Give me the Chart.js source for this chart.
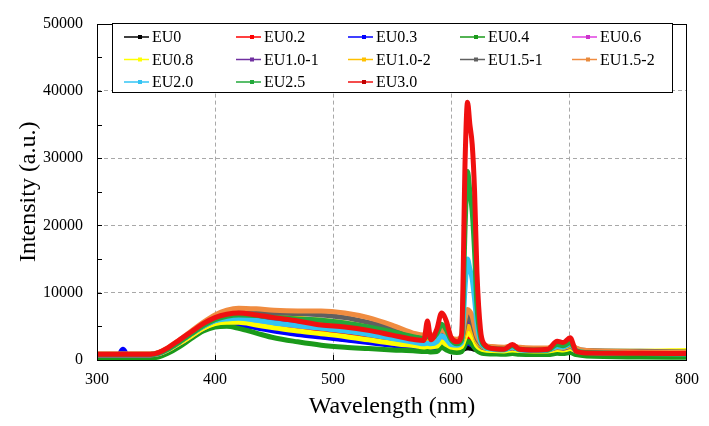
<!DOCTYPE html>
<html>
<head>
<meta charset="utf-8">
<script src="https://cdn.jsdelivr.net/npm/chart.js@4.4.1/dist/chart.umd.min.js"></script>
<style>
  html, body { margin: 0; padding: 0; background: #fff; }
  #wrap { width: 709px; height: 426px; }
</style>
</head>
<body>
<div id="wrap"><canvas id="chart" width="709" height="426"></canvas></div>
<script>
const serif = '"Liberation Serif", "Times New Roman", serif';

// wavelength (nm)
const wavelengths = [300,318,322,326,345,352,360,370,380,390,
  400,410,420,435,450,470,490,510,530,550,
  570,577,580,583,588,592,596,600,605,609,
  612,614,616,618,620,622,625,628,635,645,
  652,658,670,682,690,695,701,706,715,760,
  800];

const eu0 = [700,700,700,700,700,850,1400,2400,3500,4500,
  5200,5400,5300,4900,4400,3900,3500,3100,2700,2300,
  1900,1800,1800,1750,1750,1900,1800,1650,1600,1600,
  1700,1800,1750,1700,1600,1500,1400,1350,1300,1250,
  1250,1200,1150,1150,1200,1200,1200,1100,1000,900,
  850];
const eu02 = [800,800,800,800,800,950,1500,2500,3600,4700,
  5400,5700,5700,5400,5000,4600,4200,3800,3400,2900,
  2400,2250,2300,2250,2300,2700,2400,2100,2000,2100,
  3000,3500,3300,3000,2600,2100,1800,1600,1500,1400,
  1500,1400,1350,1350,1500,1450,1600,1300,1100,950,
  900];
const eu03 = [750,750,1600,750,750,900,1450,2450,3550,4550,
  5200,5300,5200,4800,4300,3800,3400,3000,2600,2200,
  1850,1750,1750,1700,1750,2100,1900,1650,1550,1650,
  2200,2500,2400,2200,1900,1650,1450,1350,1300,1250,
  1350,1250,1200,1200,1350,1300,1400,1150,1000,900,
  850];
const eu04 = [300,300,300,300,300,450,1000,2000,3200,4300,
  4900,5000,4700,4000,3300,2700,2200,1900,1700,1500,
  1350,1250,1250,1200,1250,1900,1500,1200,1100,1250,
  2300,2800,2600,2300,1800,1400,1100,950,900,850,
  950,850,800,800,1000,950,1100,800,600,450,
  400];
const eu06 = [750,750,750,750,750,900,1500,2500,3600,4700,
  5500,6000,6100,5800,5500,5100,4800,4400,3900,3300,
  2700,2500,2550,2500,2600,3200,2800,2300,2200,2400,
  3800,4500,4300,3900,3200,2400,1900,1700,1600,1500,
  1650,1500,1400,1400,1650,1550,1750,1350,1150,1000,
  950];
const eu08 = [800,800,800,800,800,950,1500,2500,3600,4700,
  5400,5600,5600,5200,4800,4300,3900,3500,3000,2500,
  2100,1950,2000,1950,2050,2700,2300,1900,1800,2000,
  3400,4000,3800,3400,2800,2100,1700,1500,1400,1350,
  1500,1400,1350,1350,1550,1500,1700,1400,1300,1300,
  1400];
const eu10a = [800,800,800,800,800,1000,1600,2700,3900,5000,
  5900,6300,6500,6300,6000,5700,5400,5000,4500,3800,
  3100,2900,2950,2900,3000,3800,3300,2700,2500,2800,
  4600,5500,5200,4700,3800,2800,2100,1800,1700,1600,
  1800,1600,1500,1500,1850,1750,2000,1500,1200,1050,
  1000];
const eu10b = [850,850,850,850,850,1050,1700,2800,4000,5200,
  6200,6700,6900,6700,6500,6200,5900,5500,4900,4100,
  3200,3000,3050,3000,3100,3800,3300,2700,2500,2800,
  4200,5000,4800,4300,3600,2800,2200,1900,1800,1700,
  1900,1700,1600,1600,1950,1850,2100,1600,1300,1150,
  1100];
const eu15a = [850,850,850,850,850,1050,1700,2900,4100,5400,
  6500,7200,7400,7200,7000,6900,6700,6300,5600,4700,
  3600,3400,3450,3400,3500,4300,3800,3100,2900,3200,
  5400,6500,6200,5500,4300,3200,2400,2000,1900,1800,
  2000,1800,1700,1700,2100,2000,2300,1700,1400,1300,
  1200];
const eu15b = [900,900,900,900,900,1100,1800,3000,4300,5600,
  6700,7400,7700,7600,7400,7300,7300,7000,6300,5200,
  3900,3700,3750,3700,3800,4500,4000,3300,3100,3400,
  6200,7500,7200,6500,5000,3600,2600,2200,2000,1900,
  2100,1900,1800,1800,2200,2100,2400,1800,1400,1200,
  1100];
const eu20 = [800,800,800,800,800,1000,1600,2700,3900,5000,
  5800,6100,6200,5900,5500,5100,4700,4300,3800,3200,
  2600,2400,2500,2400,2700,3600,3100,2300,2200,2600,
  11000,15000,13500,12000,9000,5500,2800,2000,1600,1500,
  1900,1500,1400,1450,2000,1900,2400,1400,1100,950,
  900];
const eu25 = [800,800,800,800,800,1000,1600,2700,3900,5100,
  6000,6500,6700,6600,6300,6100,5900,5500,4900,4200,
  3400,3200,3600,3300,3900,5300,4500,3000,2400,3000,
  20000,28000,25000,22000,16000,8000,3500,2200,1700,1600,
  2100,1600,1500,1500,2300,2100,2600,1400,1100,950,
  900];
const eu30 = [850,850,850,850,850,1100,1800,3000,4200,5400,
  6300,6800,7000,6700,6300,5800,5200,4900,4400,3700,
  3000,2900,5800,3000,4600,7000,5800,3400,2700,3800,
  30000,38300,35000,32000,25000,13000,4500,2400,1700,1600,
  2300,1600,1500,1600,2800,2600,3300,1300,1050,1000,
  950];

const seriesNames = ['EU0','EU0.2','EU0.3','EU0.4','EU0.6','EU0.8','EU1.0-1','EU1.0-2',
  'EU1.5-1','EU1.5-2','EU2.0','EU2.5','EU3.0'];
const seriesValues = [eu0, eu02, eu03, eu04, eu06, eu08, eu10a, eu10b, eu15a, eu15b, eu20, eu25, eu30];
const seriesColors = ['#000000','#ff0000','#0000ff','#1a9a1a','#e040e0','#ffff00','#7030a0','#ffc000',
  '#606060','#f08c40','#33c4f4','#22a83a','#f01010'];
const markerColors = ['#000000','#ff0000','#0000ff','#1a9a1a','#cc33cc','#ffff00','#7030a0','#ffc000',
  '#606060','#e88a3c','#33c4f4','#22a83a','#c00000'];

const datasets = seriesNames.map(function (name, i) {
  return {
    label: name,
    data: wavelengths.map(function (w, j) { return { x: w, y: seriesValues[i][j] }; }),
    borderColor: seriesColors[i],
    backgroundColor: seriesColors[i],
    // later series sit on top, as in the original
    order: seriesNames.length - 1 - i
  };
});

// legend in a framed box, 5 columns
const boxLegend = {
  id: 'boxLegend',
  afterDraw(chart) {
    const ctx = chart.ctx;
    const x0 = 112, y0 = 23, x1 = 672, y1 = 92;
    ctx.save();
    ctx.fillStyle = '#fff';
    ctx.fillRect(x0, y0, x1 - x0, y1 - y0);
    ctx.strokeStyle = '#000';
    ctx.lineWidth = 1;
    ctx.strokeRect(x0 + 0.5, y0 + 0.5, x1 - x0, y1 - y0);
    ctx.font = '16px ' + serif;
    ctx.textBaseline = 'middle';
    chart.data.datasets.forEach(function (ds, i) {
      const tx = 152 + (i % 5) * 112;
      const ty = 37 + Math.floor(i / 5) * 22.5;
      ctx.strokeStyle = ds.borderColor;
      ctx.lineWidth = 1.5;
      ctx.beginPath();
      ctx.moveTo(tx - 28, ty);
      ctx.lineTo(tx - 3, ty);
      ctx.stroke();
      ctx.fillStyle = markerColors[i];
      ctx.fillRect(tx - 14, ty - 2, 4, 4);
      ctx.fillStyle = '#000';
      ctx.fillText(ds.label, tx, ty + 1);
    });
    ctx.restore();
  }
};

// plot frame and inward tick marks
const frame = {
  id: 'frame',
  afterDraw(chart) {
    const { ctx, chartArea: a, scales } = chart;
    ctx.save();
    ctx.strokeStyle = '#000';
    ctx.lineWidth = 1;
    ctx.strokeRect(Math.round(a.left) + 0.5, Math.round(a.top) + 0.5,
      Math.round(a.right - a.left) - 1, Math.round(a.bottom - a.top));
    ctx.beginPath();
    for (let v = 5000; v < 50000; v += 5000) {
      const y = Math.round(scales.y.getPixelForValue(v)) + 0.5;
      ctx.moveTo(a.left, y);
      ctx.lineTo(a.left + 5, y);
    }
    for (let w = 400; w < 800; w += 100) {
      const x = Math.round(scales.x.getPixelForValue(w)) + 0.5;
      ctx.moveTo(x, a.bottom);
      ctx.lineTo(x, a.bottom - 5);
    }
    ctx.stroke();
    ctx.restore();
  }
};

new Chart(document.getElementById('chart'), {
  type: 'line',
  data: { datasets: datasets },
  plugins: [frame, boxLegend],
  options: {
    responsive: false,
    animation: false,
    devicePixelRatio: 1,
    layout: { padding: { left: 0, right: 22, top: 17, bottom: 0 } },
    plugins: { legend: { display: false }, tooltip: { enabled: false } },
    elements: {
      point: { radius: 0 },
      line: { borderWidth: 5, cubicInterpolationMode: 'monotone' }
    },
    scales: {
      x: {
        type: 'linear',
        min: 300,
        max: 800,
        afterFit: function (s) { s.height = 66; },
        ticks: {
          stepSize: 100, autoSkip: false, maxRotation: 0, padding: 10,
          color: '#000', font: { family: serif, size: 16 }
        },
        grid: {
          drawTicks: false,
          lineWidth: 1,
          color: function (c) {
            const v = c.tick && c.tick.value;
            return v > 300 && v < 800 ? '#a8a8a8' : 'rgba(0,0,0,0)';
          }
        },
        border: { display: false, dash: [4, 3] },
        title: {
          display: true, text: 'Wavelength (nm)', color: '#000',
          font: { family: serif, size: 24 }, padding: { top: 0, bottom: 5 }
        }
      },
      y: {
        min: 0,
        max: 50000,
        afterFit: function (s) { s.width = 97; },
        ticks: {
          stepSize: 5000, autoSkip: false, padding: 14,
          color: '#000', font: { family: serif, size: 16 },
          callback: function (v) { return v % 10000 === 0 ? v : ''; }
        },
        grid: {
          drawTicks: false,
          lineWidth: 1,
          color: function (c) {
            const v = c.tick && c.tick.value;
            return v % 10000 === 0 && v > 0 && v < 50000 ? '#a8a8a8' : 'rgba(0,0,0,0)';
          }
        },
        border: { display: false, dash: [4, 3] },
        title: {
          display: true, text: 'Intensity (a.u.)', color: '#000',
          font: { family: serif, size: 24 }, padding: { top: 14, bottom: 0 }
        }
      }
    }
  }
});
</script>
</body>
</html>
